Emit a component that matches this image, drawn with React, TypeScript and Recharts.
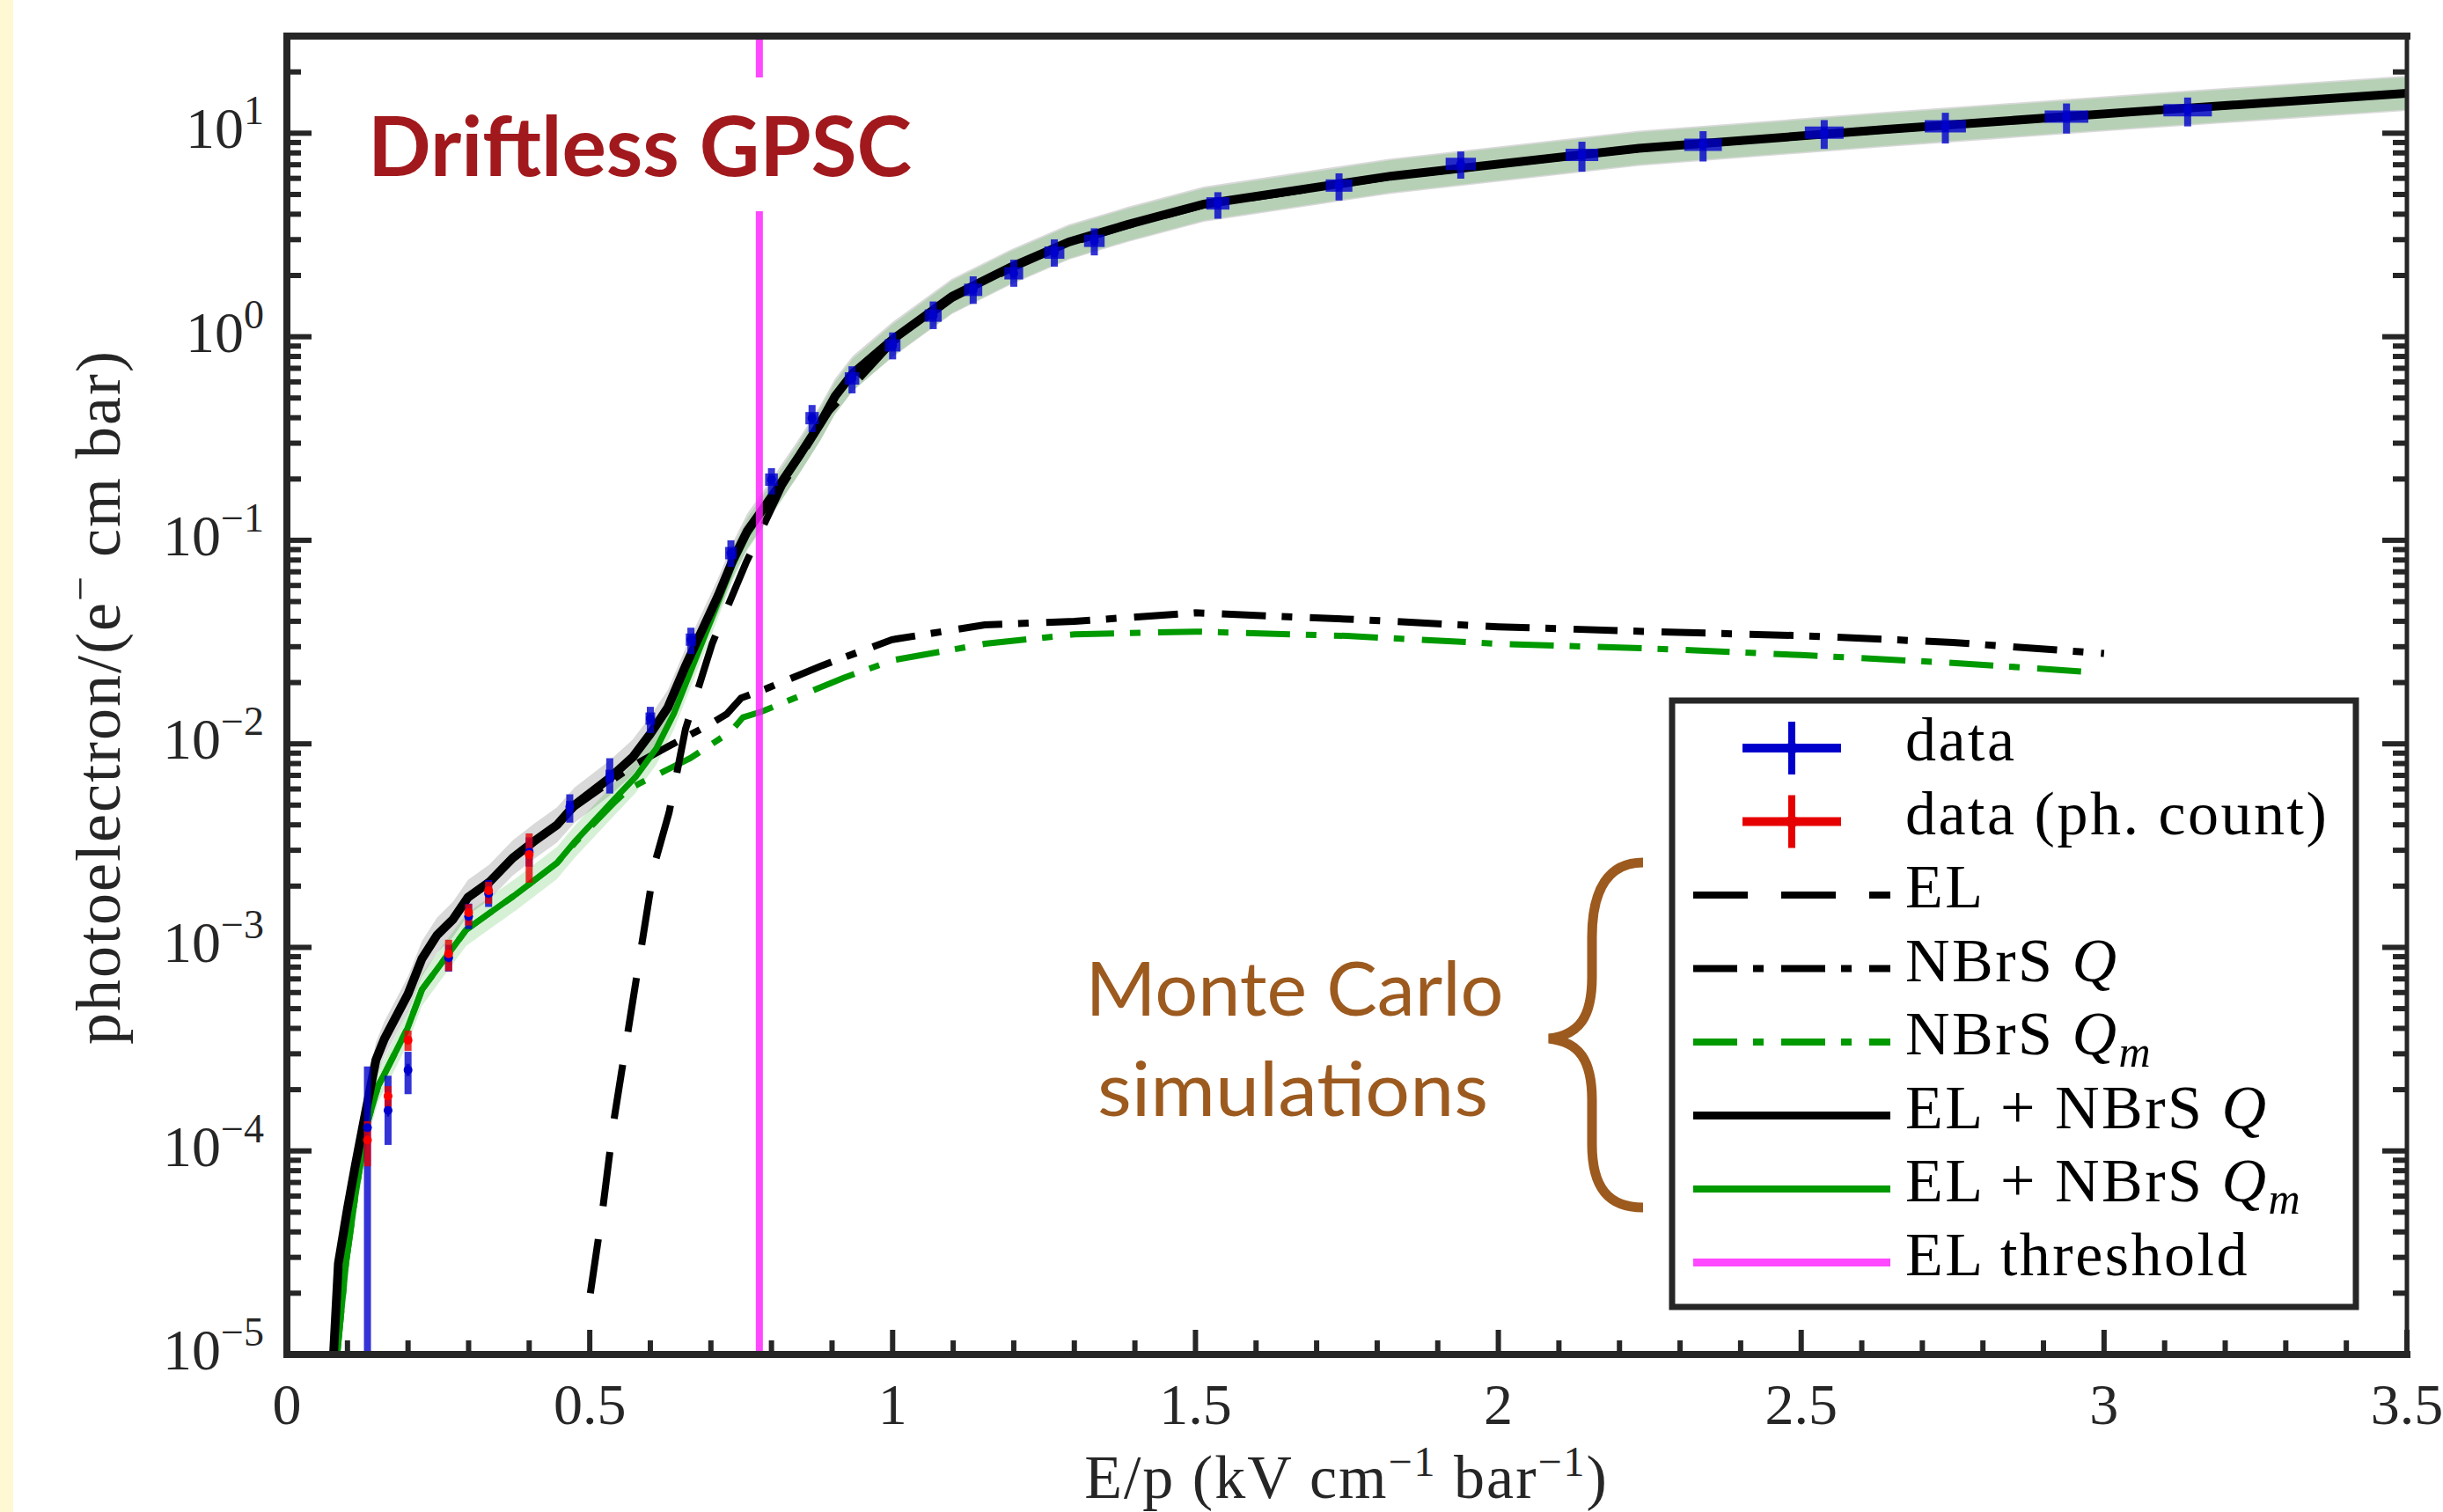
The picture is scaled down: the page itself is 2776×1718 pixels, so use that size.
import React from 'react';
import { ComposedChart, XAxis, YAxis, Line, Area, Scatter, ErrorBar } from 'recharts';

const WIDTH = 2776;
const HEIGHT = 1718;
const AXIS = '#262626';
const SERIF = '"Liberation Serif", "Times New Roman", serif';
const SANS = 'Lato, "Open Sans", sans-serif';
const BLUE = '#0000cc';
const RED = '#e60000';
const GREEN = '#009900';
const MAGENTA = '#ff1aff';
const BROWN = '#9c5a1f';

// axis ticks
const xMajor = [0, 0.5, 1, 1.5, 2, 2.5, 3, 3.5];
const xLabels = ['0', '0.5', '1', '1.5', '2', '2.5', '3', '3.5'];
const xMinor = [0.1, 0.2, 0.3, 0.4, 0.6, 0.7, 0.8, 0.9, 1.1, 1.2, 1.3, 1.4, 1.6, 1.7, 1.8, 1.9,
  2.1, 2.2, 2.3, 2.4, 2.6, 2.7, 2.8, 2.9, 3.1, 3.2, 3.3, 3.4];
const yMajor = [1e-5, 1e-4, 1e-3, 1e-2, 1e-1, 1, 10];
const yExponents = ['\u22125', '\u22124', '\u22123', '\u22122', '\u22121', '0', '1'];
const yMinor = [
  2e-5, 3e-5, 4e-5, 5e-5, 6e-5, 7e-5, 8e-5, 9e-5,
  2e-4, 3e-4, 4e-4, 5e-4, 6e-4, 7e-4, 8e-4, 9e-4,
  2e-3, 3e-3, 4e-3, 5e-3, 6e-3, 7e-3, 8e-3, 9e-3,
  0.02, 0.03, 0.04, 0.05, 0.06, 0.07, 0.08, 0.09,
  0.2, 0.3, 0.4, 0.5, 0.6, 0.7, 0.8, 0.9,
  2, 3, 4, 5, 6, 7, 8, 9,
  20,
];
const xTicks = [...xMajor, ...xMinor];
const yTicks = [...yMajor, ...yMinor];

// EL + NBrS Q (black solid)
const totQX = [0.077, 0.085, 0.100, 0.113, 0.127, 0.147, 0.161, 0.200, 0.223, 0.248, 0.274, 0.299, 0.334, 0.373,
  0.407, 0.446, 0.475, 0.533, 0.571, 0.600, 0.629, 0.658, 0.687, 0.712, 0.736, 0.760, 0.784, 0.808, 0.847,
  0.881, 0.905, 0.934, 1.000, 1.098, 1.195, 1.291, 1.388, 1.514, 1.822, 2.232, 2.641, 3.051, 3.500];
const totQY = [1.0e-5, 2.8e-5, 5.2e-5, 8.5e-5, 1.4e-4, 2.8e-4, 3.55e-4, 5.9e-4, 8.8e-4, 1.15e-3, 1.37e-3, 1.76e-3,
  2.09e-3, 2.75e-3, 3.3e-3, 4.0e-3, 5.0e-3, 6.8e-3, 8.6e-3, 0.0112, 0.0151, 0.0241, 0.037, 0.0535, 0.0796,
  0.111, 0.14, 0.177, 0.263, 0.379, 0.51, 0.66, 0.97, 1.58, 2.2, 2.92, 3.56, 4.48, 6.15, 8.43, 10.44, 12.76, 15.7];

// EL + NBrS Qm (green solid)
const totQmX = [0.083, 0.0975, 0.113, 0.1315, 0.151, 0.160, 0.199, 0.223, 0.257, 0.296, 0.334, 0.378, 0.446, 0.475,
  0.542, 0.576, 0.610, 0.639, 0.668, 0.697, 0.736, 0.760, 0.784, 0.808, 0.847, 0.881, 0.905, 0.934, 1.000,
  1.098, 1.195, 1.291, 1.388, 1.514, 1.822, 2.232, 2.641, 3.051, 3.500];
const totQmY = [1.0e-5, 2.8e-5, 6.0e-5, 1.33e-4, 2.1e-4, 2.35e-4, 4.0e-4, 6.2e-4, 8.5e-4, 1.22e-3, 1.47e-3, 1.82e-3,
  2.6e-3, 3.3e-3, 5.4e-3, 6.9e-3, 9.5e-3, 0.0141, 0.0233, 0.0384, 0.076, 0.107, 0.136, 0.172, 0.257, 0.372,
  0.50, 0.65, 0.96, 1.57, 2.19, 2.91, 3.55, 4.47, 6.14, 8.42, 10.43, 12.75, 15.69];

// EL (black dashed)
const elX = [0.501, 0.5215, 0.539, 0.5755, 0.607, 0.631, 0.658, 0.702, 0.7575, 0.818, 0.895, 1.000, 1.098, 1.195,
  1.291, 1.388, 1.514, 1.822, 2.232, 2.641, 3.051, 3.500];
const elY = [2.0e-5, 5.2e-5, 1.36e-4, 6.6e-4, 2.57e-3, 4.6e-3, 0.0118, 0.031, 0.077, 0.186, 0.43, 0.94, 1.54, 2.16,
  2.88, 3.52, 4.44, 6.11, 8.39, 10.40, 12.73, 15.67];

// NBrS Q (black dash-dot)
const nbrsQX = [0.077, 0.085, 0.100, 0.113, 0.127, 0.147, 0.161, 0.200, 0.223, 0.248, 0.274, 0.299, 0.334, 0.373,
  0.407, 0.446, 0.475, 0.533, 0.571, 0.632, 0.699, 0.726, 0.750, 0.794, 0.883, 0.999, 1.152, 1.300, 1.500,
  1.750, 2.000, 2.250, 2.500, 2.750, 3.000];
const nbrsQY = [1.0e-5, 2.8e-5, 5.2e-5, 8.5e-5, 1.4e-4, 2.8e-4, 3.55e-4, 5.9e-4, 8.8e-4, 1.15e-3, 1.37e-3, 1.76e-3,
  2.09e-3, 2.75e-3, 3.3e-3, 4.0e-3, 4.9e-3, 6.5e-3, 7.8e-3, 9.8e-3, 0.0125, 0.014, 0.0168, 0.0188, 0.0242,
  0.0325, 0.0384, 0.040, 0.044, 0.041, 0.0376, 0.0356, 0.034, 0.0315, 0.0278];

// NBrS Qm (green dash-dot)
const nbrsQmX = [0.083, 0.0975, 0.113, 0.1315, 0.151, 0.160, 0.199, 0.223, 0.257, 0.296, 0.334, 0.378, 0.446, 0.475,
  0.542, 0.564, 0.666, 0.733, 0.753, 0.784, 0.919, 1.002, 1.152, 1.300, 1.500, 1.750, 2.000, 2.250, 2.500,
  2.750, 2.980];
const nbrsQmY = [1.0e-5, 2.8e-5, 6.0e-5, 1.33e-4, 2.1e-4, 2.35e-4, 4.0e-4, 6.2e-4, 8.5e-4, 1.22e-3, 1.47e-3, 1.82e-3,
  2.6e-3, 3.25e-3, 5.2e-3, 6.0e-3, 8.5e-3, 0.0115, 0.0135, 0.0144, 0.0211, 0.0258, 0.031, 0.0345, 0.0356,
  0.0339, 0.031, 0.0294, 0.0273, 0.025, 0.0225];

// relative width of the simulation uncertainty bands
const BAND_Q = 1.22;
const BAND_QM = 1.2;

// measured data (blue)
const blueX = [0.133, 0.167, 0.200, 0.267, 0.300, 0.333, 0.400, 0.467, 0.533, 0.600, 0.667, 0.733, 0.800, 0.867,
  0.933, 1.000, 1.067, 1.133, 1.200, 1.267, 1.333, 1.537, 1.737, 1.938, 2.138, 2.338, 2.538, 2.738, 2.938, 3.138];
const blueY = [1.3e-4, 1.58e-4, 2.5e-4, 8.9e-4, 1.42e-3, 1.84e-3, 2.94e-3, 4.9e-3, 6.96e-3, 0.0133, 0.0325, 0.0865,
  0.1986, 0.398, 0.624, 0.907, 1.27, 1.70, 2.05, 2.59, 2.96, 4.52, 5.53, 7.07, 7.82, 8.77, 10.05, 10.8, 12.07, 12.98];
const blueLo = [1.0e-5, 1.07e-4, 1.9e-4, 7.6e-4, 1.23e-3, 1.58e-3, 2.49e-3, 4.1e-3, 5.7e-3, 0.0113, 0.0276, 0.074,
  0.168, 0.34, 0.527, 0.774, 1.09, 1.45, 1.76, 2.21, 2.51, 3.80, 4.67, 5.98, 6.47, 7.26, 8.37, 8.9, 9.96, 10.8];
const blueHi = [2.6e-4, 2.34e-4, 3.07e-4, 1.03e-3, 1.64e-3, 2.14e-3, 3.47e-3, 5.65e-3, 8.5e-3, 0.0152, 0.0372, 0.1,
  0.226, 0.462, 0.716, 1.05, 1.49, 1.98, 2.39, 3.01, 3.41, 5.13, 6.35, 8.13, 9.08, 10.23, 11.6, 12.6, 14.0, 14.97];
const blueXErr = [0.002, 0.002, 0.003, 0.0035, 0.004, 0.0045, 0.005, 0.006, 0.007, 0.008, 0.0085, 0.0095, 0.0105,
  0.011, 0.012, 0.013, 0.014, 0.015, 0.0155, 0.0165, 0.017, 0.019, 0.022, 0.025, 0.027, 0.031, 0.032, 0.034,
  0.036, 0.04];

// measured data, photon counting (red)
const redX = [0.133, 0.167, 0.200, 0.267, 0.300, 0.333, 0.400];
const redY = [1.13e-4, 1.86e-4, 3.5e-4, 9.3e-4, 1.48e-3, 1.9e-3, 2.86e-3];
const redLo = [8.4e-5, 1.65e-4, 3.1e-4, 7.65e-4, 1.28e-3, 1.64e-3, 2.08e-3];
const redHi = [1.4e-4, 2.08e-4, 3.9e-4, 1.09e-3, 1.63e-3, 2.1e-3, 3.63e-3];

const EL_THRESHOLD = 0.78;

const curve = (xs: number[], ys: number[]) => xs.map((x, i) => ({ x, y: ys[i] }));
const banded = (xs: number[], ys: number[], f: number) =>
  xs.map((x, i) => ({ x, y: ys[i], band: [ys[i] / f, ys[i] * f] }));
const points = (xs: number[], ys: number[], lo: number[], hi: number[], ex?: number[]) =>
  xs.map((x, i) => ({ x, y: ys[i], ey: [ys[i] - lo[i], hi[i] - ys[i]], ex: ex ? ex[i] : 0 }));

const totQData = banded(totQX, totQY, BAND_Q);
const totQmData = banded(totQmX, totQmY, BAND_QM);
const elData = curve(elX, elY);
const nbrsQData = curve(nbrsQX, nbrsQY);
const nbrsQmData = curve(nbrsQmX, nbrsQmY);
const blueData = points(blueX, blueY, blueLo, blueHi, blueXErr);
const redData = points(redX, redY, redLo, redHi);
const thresholdData = [{ x: EL_THRESHOLD, y: 1e-5 }, { x: EL_THRESHOLD, y: 30 }];

const XTick = (props: any) => {
  const { x, y, payload, side } = props;
  const i = xMajor.indexOf(payload.value);
  const len = i >= 0 ? 28 : 16;
  const dir = side === 'bottom' ? -1 : 1;
  return (
    <g>
      <line x1={x} x2={x} y1={y} y2={y + dir * len} stroke={AXIS} strokeWidth={6} />
      {side === 'bottom' && i >= 0 && (
        <text x={x} y={y + 79} textAnchor="middle" fontFamily={SERIF} fontSize={66} fill={AXIS}>
          {xLabels[i]}
        </text>
      )}
    </g>
  );
};

const YTick = (props: any) => {
  const { x, y, payload, side } = props;
  const i = yMajor.indexOf(payload.value);
  const len = i >= 0 ? 28 : 16;
  const dir = side === 'left' ? 1 : -1;
  return (
    <g>
      <line x1={x} x2={x + dir * len} y1={y} y2={y} stroke={AXIS} strokeWidth={6} />
      {side === 'left' && i >= 0 && (
        <text x={300} y={y + 17} textAnchor="end" fontFamily={SERIF} fontSize={66} fill={AXIS}>
          10<tspan fontSize={46} dy={-27}>{yExponents[i]}</tspan>
        </text>
      )}
    </g>
  );
};

const frame = (w: number) => ({ stroke: AXIS, strokeWidth: w, strokeLinecap: 'square' as const });

const LEGEND_ROWS = [850, 933.5, 1017, 1100.5, 1184, 1267.5, 1351, 1434.5];

function LegendBox() {
  const x1 = 1924;
  const x2 = 2148;
  const tx = 2165;
  const t = { fontFamily: SERIF, fontSize: 70, fill: '#000', letterSpacing: 2.5 };
  const row = (i: number) => LEGEND_ROWS[i];
  return (
    <g>
      <rect x={1900} y={796} width={777} height={689} fill="#fff" stroke={AXIS} strokeWidth={7} />
      {[BLUE, RED].map((c, i) => (
        <g key={c}>
          <line x1={1980} x2={2092} y1={row(i)} y2={row(i)} stroke={c} strokeWidth={10} />
          <line x1={2036} x2={2036} y1={row(i) - 30} y2={row(i) + 30} stroke={c} strokeWidth={8} />
          <circle cx={2036} cy={row(i)} r={7} fill={c} />
        </g>
      ))}
      <line x1={x1} x2={x2} y1={row(2)} y2={row(2)} stroke="#000" strokeWidth={8} strokeDasharray="62 38" />
      <line x1={x1} x2={x2} y1={row(3)} y2={row(3)} stroke="#000" strokeWidth={8} strokeDasharray="50 18 12 20" />
      <line x1={x1} x2={x2} y1={row(4)} y2={row(4)} stroke={GREEN} strokeWidth={8} strokeDasharray="50 18 12 20" />
      <line x1={x1} x2={x2} y1={row(5)} y2={row(5)} stroke="#000" strokeWidth={9} />
      <line x1={x1} x2={x2} y1={row(6)} y2={row(6)} stroke={GREEN} strokeWidth={8} />
      <line x1={x1} x2={x2} y1={row(7)} y2={row(7)} stroke={MAGENTA} strokeOpacity={0.8} strokeWidth={9} />
      <text x={tx} y={row(0) + 14} {...t}>data</text>
      <text x={tx} y={row(1) + 14} {...t}>data (ph. count)</text>
      <text x={tx} y={row(2) + 14} {...t}>EL</text>
      <text x={tx} y={row(3) + 14} {...t}>NBrS <tspan fontStyle="italic">Q</tspan></text>
      <text x={tx} y={row(4) + 14} {...t}>
        NBrS <tspan fontStyle="italic">Q</tspan><tspan fontStyle="italic" fontSize={50} dy={14}>m</tspan>
      </text>
      <text x={tx} y={row(5) + 14} {...t}>EL + NBrS <tspan fontStyle="italic">Q</tspan></text>
      <text x={tx} y={row(6) + 14} {...t}>
        EL + NBrS <tspan fontStyle="italic">Q</tspan><tspan fontStyle="italic" fontSize={50} dy={14}>m</tspan>
      </text>
      <text x={tx} y={row(7) + 14} {...t}>EL threshold</text>
    </g>
  );
}

function Annotations() {
  return (
    <svg width={WIDTH} height={HEIGHT} style={{ position: 'absolute', left: 0, top: 0, pointerEvents: 'none' }}>
      <rect x={405} y={88} width={650} height={152} fill="#fff" />
      <text x={418} y={200} fontFamily={SANS} fontWeight={700} fontSize={93} fill="#a1191d"
        textLength={618} lengthAdjust="spacingAndGlyphs">Driftless GPSC</text>

      <text x={1471} y={1154} textAnchor="middle" fontFamily={SANS} fontSize={86} fill={BROWN}
        textLength={475} lengthAdjust="spacingAndGlyphs">Monte Carlo</text>
      <text x={1469} y={1268} textAnchor="middle" fontFamily={SANS} fontSize={86} fill={BROWN}
        textLength={444} lengthAdjust="spacingAndGlyphs">simulations</text>
      <path
        d="M 1867 980 C 1828 980, 1809 1010, 1809 1065 L 1809 1110 C 1809 1155, 1795 1176, 1760 1180
           C 1795 1184, 1809 1205, 1809 1250 L 1809 1300 C 1809 1350, 1828 1372, 1867 1372"
        fill="none" stroke={BROWN} strokeWidth={11} />

      <text transform="translate(136 792) rotate(-90)" textAnchor="middle" fontFamily={SERIF}
        fontSize={72} fill={AXIS} letterSpacing={2}>
        photoelectron/(e<tspan fontSize={50} dy={-28}>{'\u2212'}</tspan><tspan dy={28}> cm bar)</tspan>
      </text>
      <text x={1530} y={1702} textAnchor="middle" fontFamily={SERIF} fontSize={70} fill={AXIS} letterSpacing={2}>
        E/p (kV cm<tspan fontSize={48} dy={-25}>{'\u22121'}</tspan><tspan dy={25}> bar</tspan>
        <tspan fontSize={48} dy={-25}>{'\u22121'}</tspan><tspan dy={25}>)</tspan>
      </text>

      <LegendBox />
    </svg>
  );
}

export default function App() {
  return (
    <div style={{ position: 'relative', width: WIDTH, height: HEIGHT, background: '#fff' }}>
      <style>{'body{margin:0}'}</style>
      <div style={{ position: 'absolute', left: 0, top: 0, width: 15, height: HEIGHT, background: '#fff8d2' }} />
      <ComposedChart width={WIDTH} height={HEIGHT} margin={{ top: 40, right: 40, bottom: 178, left: 325 }}>
        <XAxis dataKey="x" type="number" domain={[0, 3.5]} allowDataOverflow ticks={xTicks} interval={0}
          height={1} tickSize={0} tickMargin={0} tickLine={false} axisLine={frame(8)}
          tick={(p: any) => <XTick {...p} side="bottom" />} />
        <XAxis xAxisId="top" orientation="top" type="number" domain={[0, 3.5]} allowDataOverflow ticks={xTicks}
          interval={0} height={1} tickSize={0} tickMargin={0} tickLine={false} axisLine={frame(8)}
          tick={(p: any) => <XTick {...p} side="top" />} />
        <YAxis dataKey="y" type="number" scale="log" domain={[1e-5, 30]} allowDataOverflow ticks={yTicks}
          interval={0} width={1} tickSize={0} tickMargin={0} tickLine={false} axisLine={frame(8)}
          tick={(p: any) => <YTick {...p} side="left" />} />
        <YAxis yAxisId="right" orientation="right" type="number" scale="log" domain={[1e-5, 30]} allowDataOverflow
          ticks={yTicks} interval={0} width={1} tickSize={0} tickMargin={0} tickLine={false} axisLine={frame(5)}
          tick={(p: any) => <YTick {...p} side="right" />} />

        <Area data={totQData} dataKey="band" type="linear" stroke="none" fill="#808080" fillOpacity={0.3}
          isAnimationActive={false} />
        <Area data={totQmData} dataKey="band" type="linear" stroke="none" fill="#00a000" fillOpacity={0.16}
          isAnimationActive={false} />

        <Line data={nbrsQmData} dataKey="y" type="linear" stroke={GREEN} strokeWidth={7}
          strokeDasharray="50 18 12 20" dot={false} activeDot={false} isAnimationActive={false} />
        <Line data={nbrsQData} dataKey="y" type="linear" stroke="#000" strokeWidth={8}
          strokeDasharray="50 18 12 20" dot={false} activeDot={false} isAnimationActive={false} />
        <Line data={totQmData} dataKey="y" type="linear" stroke={GREEN} strokeWidth={7}
          dot={false} activeDot={false} isAnimationActive={false} />
        <Line data={totQData} dataKey="y" type="linear" stroke="#000" strokeWidth={10}
          dot={false} activeDot={false} isAnimationActive={false} />
        <Line data={elData} dataKey="y" type="linear" stroke="#000" strokeWidth={8} strokeDasharray="62 38"
          dot={false} activeDot={false} isAnimationActive={false} />

        <Scatter data={blueData} dataKey="y" isAnimationActive={false}
          shape={(p: any) => <circle cx={p.cx} cy={p.cy} r={5} fill={BLUE} />}>
          <ErrorBar dataKey="ey" direction="y" width={0} stroke="rgba(0,0,204,0.8)" strokeWidth={8} />
          <ErrorBar dataKey="ex" direction="x" width={0} stroke="rgba(0,0,204,0.8)" strokeWidth={14} />
        </Scatter>
        <Scatter data={redData} dataKey="y" isAnimationActive={false}
          shape={(p: any) => <circle cx={p.cx} cy={p.cy} r={5} fill="#ff0000" />}>
          <ErrorBar dataKey="ey" direction="y" width={0} stroke="rgba(230,0,0,0.8)" strokeWidth={8} />
        </Scatter>

        <Line data={thresholdData} dataKey="y" type="linear" stroke={MAGENTA} strokeOpacity={0.8} strokeWidth={8}
          dot={false} activeDot={false} isAnimationActive={false} />
      </ComposedChart>
      <Annotations />
    </div>
  );
}
